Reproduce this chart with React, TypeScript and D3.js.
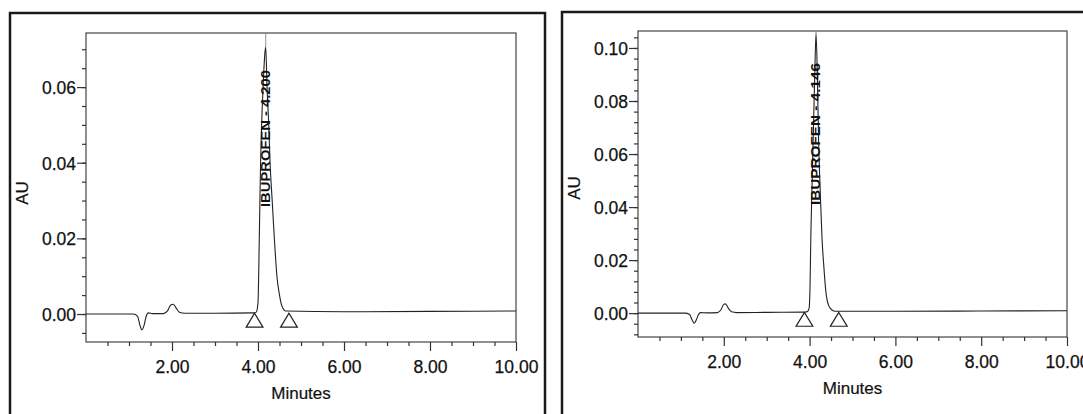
import React, { useRef, useEffect } from "react";
import * as d3 from "d3";

const W = 1083;
const H = 414;
const FONT = "Arial, 'Liberation Sans', sans-serif";

// retention time (min) / absorbance (AU)
const leftTrace: [number, number][] = [
  [0, 0], [1.1, 0], [1.2, -0.0006], [1.25, -0.0028], [1.3, -0.0042], [1.35, -0.003],
  [1.4, -0.0006], [1.45, 0.0003], [1.55, 0.0001], [1.8, 0.0001], [1.9, 0.0009],
  [1.97, 0.0024], [2.03, 0.0026], [2.1, 0.0015], [2.18, 0.0004], [2.3, 0.0002],
  [3.0, 0.0002], [3.9, 0.0003], [3.96, 0.0005], [4.0, 0.003], [4.03, 0.02],
  [4.06, 0.04], [4.1, 0.055], [4.13, 0.063], [4.16, 0.069], [4.18, 0.0705],
  [4.21, 0.06], [4.25, 0.05], [4.28, 0.04], [4.33, 0.03], [4.38, 0.02],
  [4.44, 0.01], [4.5, 0.005], [4.56, 0.002], [4.65, 0.0008], [6, 0.0006],
  [8, 0.0007], [10, 0.0008],
];

const rightTrace: [number, number][] = [
  [0, 0], [1.1, 0], [1.2, -0.0005], [1.26, -0.0025], [1.31, -0.0038], [1.36, -0.0025],
  [1.41, -0.0005], [1.46, 0.0002], [1.6, 0.0001], [1.85, 0.0002], [1.93, 0.0012],
  [2.0, 0.0033], [2.04, 0.0035], [2.1, 0.002], [2.18, 0.0005], [2.3, 0.0002],
  [3.0, 0.0003], [3.9, 0.0004], [3.95, 0.0006], [3.99, 0.002], [4.01, 0.01],
  [4.03, 0.03], [4.06, 0.05], [4.09, 0.07], [4.12, 0.09], [4.15, 0.1055],
  [4.18, 0.09], [4.21, 0.065], [4.25, 0.045], [4.29, 0.028], [4.33, 0.018],
  [4.38, 0.008], [4.44, 0.003], [4.52, 0.0012], [4.6, 0.0007], [6, 0.0007],
  [8, 0.0008], [10, 0.0009],
];

const leftMarks = [3.92, 4.72];
const rightMarks = [3.88, 4.68];

const leftYTicks = [0.0, 0.02, 0.04, 0.06];
const rightYTicks = [0.0, 0.02, 0.04, 0.06, 0.08, 0.1];
const xTicks = [2, 4, 6, 8, 10];

const leftPeak = { name: "IBUPROFEN - 4.200", t: 4.18, au: 0.0705 };
const rightPeak = { name: "IBUPROFEN - 4.146", t: 4.15, au: 0.1055 };

type PanelProps = {
  frame: [number, number, number, number];
  xRange: [number, number];
  yRange: [number, number];
  yDomain: [number, number];
  yTicks: number[];
  yMinor: number;
  trace: [number, number][];
  marks: number[];
  peak: { name: string; t: number; au: number };
  labelBottom: number;
  labelLen: number;
  auPos: [number, number];
  tickLabelY: number;
  titleY: number;
};

const Panel = (p: PanelProps) => {
  const ref = useRef<SVGGElement>(null);

  useEffect(() => {
    if (!ref.current) return;
    const g = d3.select(ref.current);
    g.selectAll("*").remove();

    const x = d3.scaleLinear().domain([0, 10]).range(p.xRange);
    const y = d3.scaleLinear().domain(p.yDomain).range(p.yRange);
    const [x0, x1] = p.xRange;
    const [yb, yt] = p.yRange;

    // outer panel frame
    const [fx, fy, fw, fh] = p.frame;
    g.append("rect")
      .attr("x", fx).attr("y", fy).attr("width", fw).attr("height", fh)
      .attr("fill", "none").attr("stroke", "#1a1a1a").attr("stroke-width", 2.5);

    // plot box
    g.append("rect")
      .attr("x", x0).attr("y", yt).attr("width", x1 - x0).attr("height", yb - yt)
      .attr("fill", "none").attr("stroke", "#333").attr("stroke-width", 1.1);

    // y axis
    const minorY = d3.range(Math.ceil(p.yDomain[0] / p.yMinor), Math.floor(p.yDomain[1] / p.yMinor) + 1)
      .map((i) => i * p.yMinor);
    const yMin = g.append("g").attr("transform", `translate(${x0},0)`)
      .call(d3.axisLeft(y).tickValues(minorY).tickSize(4).tickFormat(() => ""));
    const yMaj = g.append("g").attr("transform", `translate(${x0},0)`)
      .call(d3.axisLeft(y).tickValues(p.yTicks).tickSize(9).tickPadding(1).tickFormat(d3.format(".2f")));

    // x axis
    const minorX = d3.range(1, 20).map((i) => i * 0.5).filter((v) => v % 2 !== 0);
    const xMin = g.append("g").attr("transform", `translate(0,${yb})`)
      .call(d3.axisBottom(x).tickValues(minorX).tickSize(4).tickFormat(() => ""));
    const xMaj = g.append("g").attr("transform", `translate(0,${yb})`)
      .call(d3.axisBottom(x).tickValues(xTicks).tickSize(9).tickFormat(d3.format(".2f")));

    [yMin, yMaj, xMin, xMaj].forEach((a) => {
      a.select(".domain").remove();
      a.selectAll("line").attr("stroke", "#333").attr("stroke-width", 1.2);
      a.selectAll("text")
        .attr("fill", "#111").attr("stroke", "#111").attr("stroke-width", 0.25)
        .style("font-family", FONT).style("font-size", "17.5px");
    });
    xMaj.selectAll("text").attr("dy", null).attr("y", p.tickLabelY - yb);
    yMaj.selectAll("text").attr("dy", "0.36em");

    // axis titles
    g.append("text")
      .attr("transform", `translate(${p.auPos[0]},${p.auPos[1]}) rotate(-90)`)
      .attr("text-anchor", "middle")
      .style("font-family", FONT).style("font-size", "17px")
      .attr("fill", "#111").attr("stroke", "#111").attr("stroke-width", 0.2)
      .text("AU");
    g.append("text")
      .attr("x", (x0 + x1) / 2).attr("y", p.titleY)
      .attr("text-anchor", "middle")
      .style("font-family", FONT).style("font-size", "17px")
      .attr("fill", "#111").attr("stroke", "#111").attr("stroke-width", 0.2)
      .text("Minutes");

    // leader line from the top of the box to the apex
    g.append("line")
      .attr("x1", x(p.peak.t)).attr("x2", x(p.peak.t))
      .attr("y1", yt).attr("y2", y(p.peak.au))
      .attr("stroke", "#777").attr("stroke-width", 0.8);

    // trace
    const line = d3.line<[number, number]>()
      .x((d) => x(d[0]))
      .y((d) => y(d[1]))
      .curve(d3.curveMonotoneX);
    g.append("path")
      .datum(p.trace)
      .attr("d", line)
      .attr("fill", "none").attr("stroke", "#222").attr("stroke-width", 1.1);

    // integration start / end markers
    const tri = d3.symbol().type(d3.symbolTriangle).size(110);
    g.selectAll(".mark")
      .data(p.marks)
      .join("path")
      .attr("class", "mark")
      .attr("d", tri)
      .attr("transform", (d) => `translate(${x(d)},${y(0) + 8.5}) scale(1.05,1)`)
      .attr("fill", "white").attr("stroke", "#222").attr("stroke-width", 1.2);

    // peak label
    g.append("text")
      .attr("transform", `translate(${x(p.peak.t) + 4.3},${p.labelBottom}) rotate(-90)`)
      .attr("textLength", p.labelLen)
      .attr("lengthAdjust", "spacingAndGlyphs")
      .style("font-family", FONT).style("font-size", "12px").style("font-weight", "bold")
      .attr("fill", "#111")
      .text(p.peak.name);
  }, [p]);

  return <g ref={ref} />;
};

const App = () => {
  return (
    <svg
      width={W}
      height={H}
      style={{ position: "absolute", left: 0, top: 0, background: "white" }}
    >
      <Panel
        frame={[10, 13, 535, 420]}
        xRange={[86, 516]}
        yRange={[342, 33]}
        yDomain={[-0.0074, 0.0743]}
        yTicks={leftYTicks}
        yMinor={0.005}
        trace={leftTrace}
        marks={leftMarks}
        peak={leftPeak}
        labelBottom={207}
        labelLen={137}
        auPos={[28, 193]}
        tickLabelY={373}
        titleY={399}
      />
      <Panel
        frame={[562, 12, 540, 420]}
        xRange={[638, 1067]}
        yRange={[337, 31]}
        yDomain={[-0.009, 0.1064]}
        yTicks={rightYTicks}
        yMinor={0.004}
        trace={rightTrace}
        marks={rightMarks}
        peak={rightPeak}
        labelBottom={205}
        labelLen={142}
        auPos={[580, 188]}
        tickLabelY={368}
        titleY={394}
      />
    </svg>
  );
};

export default App;
